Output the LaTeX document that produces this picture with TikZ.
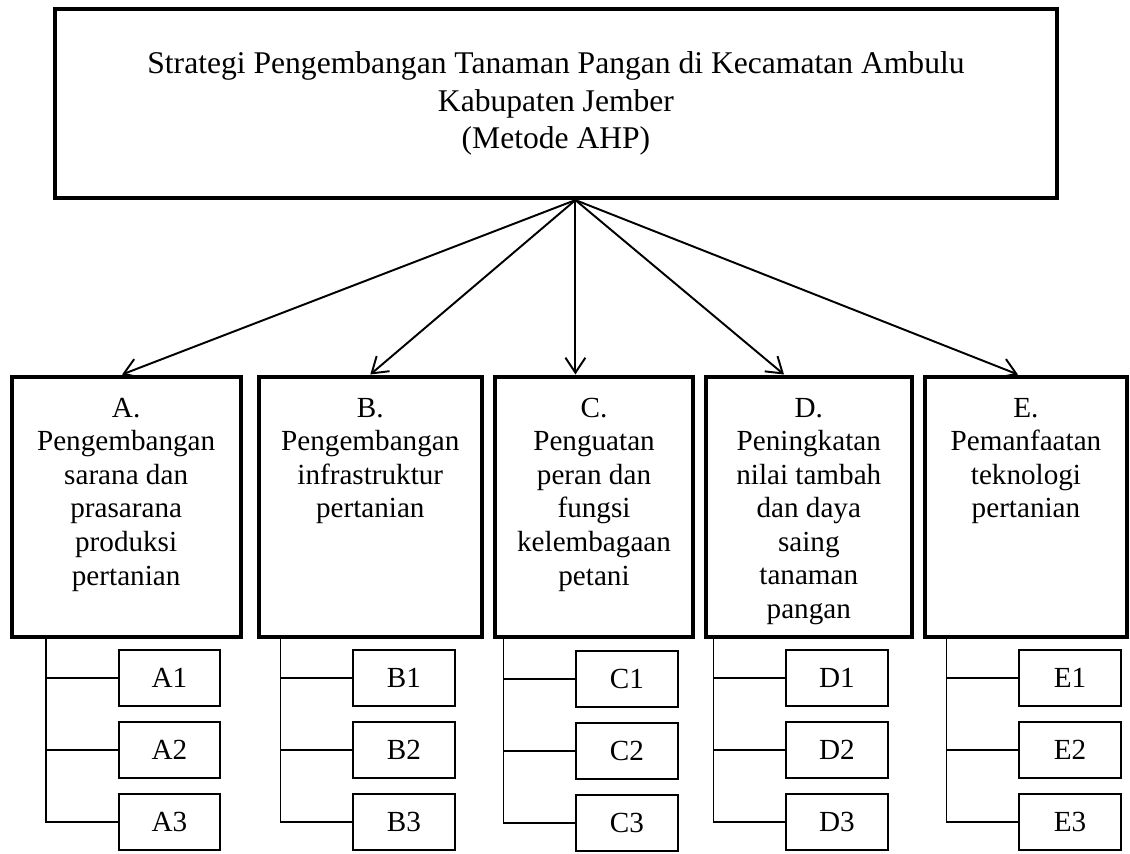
\documentclass[tikz,border=0pt]{standalone}
\usepackage{fontspec}
\setmainfont{Liberation Serif}
\usetikzlibrary{arrows.meta,positioning}

\begin{document}
\begin{tikzpicture}[x=0.4115pt, y=-0.4115pt, >={Straight Barb[length=6.2pt,width=8.2pt]},
    node distance=5.8pt,
    goal/.style={draw, line width=1.65pt, minimum width=412.3pt, minimum height=77.8pt,
                 align=center, anchor=north west, font=\fontsize{13}{15.4}\selectfont},
    crit/.style={draw, line width=1.65pt, minimum height=107.2pt, anchor=north west},
    critlbl/.style={anchor=north, align=center, inner sep=0pt, yshift=-9.5pt,
                    font=\fontsize{12}{13.8}\selectfont},
    sub/.style={draw, line width=0.8pt, minimum width=41.6pt, minimum height=23pt,
                font=\fontsize{12}{13.8}\selectfont},
    link/.style={line width=0.6pt},
    arr/.style={->, line width=0.8pt}]
  \useasboundingbox (0,0) rectangle (1130,853);

  % goal (top of the hierarchy)
  \node[goal] (goal) at (53,7)
    {Strategi Pengembangan Tanaman Pangan di Kecamatan Ambulu\\Kabupaten Jember\\(Metode AHP)};
  \coordinate (hub) at ([xshift=8pt]goal.south);

  % criteria A--E
  \node[crit, minimum width=94.2pt,
        label={[critlbl]north:A.\\Pengembangan\\sarana dan\\prasarana\\produksi\\pertanian}] (A) at (9.7,374.5) {};
  \node[crit, minimum width=92pt,
        label={[critlbl]north:B.\\Pengembangan\\infrastruktur\\pertanian}] (B) at (256.5,374.5) {};
  \node[crit, minimum width=81.5pt,
        label={[critlbl]north:C.\\Penguatan\\peran dan\\fungsi\\kelembagaan\\petani}] (C) at (493,374.5) {};
  \node[crit, minimum width=84.6pt,
        label={[critlbl]north:D.\\Peningkatan\\nilai tambah\\dan daya\\saing\\tanaman\\pangan}] (D) at (704,374.5) {};
  \node[crit, minimum width=83.1pt,
        label={[critlbl]north:E.\\Pemanfaatan\\teknologi\\pertanian}] (E) at (923,374.5) {};

  \draw[arr] (hub) -- ([xshift=-1.7pt]A.north);
  \draw[arr] (hub) -- (B.north);
  \draw[arr] (hub) -- (hub |- C.north);
  \draw[arr] (hub) -- ([xshift=-10.2pt]D.north);
  \draw[arr] (hub) -- ([xshift=-3.3pt]E.north);

  % sub-criteria
  \node[sub] (A1) at (169.5,678) {A1};
  \node[sub, below=of A1] (A2) {A2};
  \node[sub, below=of A2] (A3) {A3};
  \node[sub] (B1) at (404,678) {B1};
  \node[sub, below=of B1] (B2) {B2};
  \node[sub, below=of B2] (B3) {B3};
  \node[sub] (C1) at (627,679) {C1};
  \node[sub, below=of C1] (C2) {C2};
  \node[sub, below=of C2] (C3) {C3};
  \node[sub] (D1) at (837,678) {D1};
  \node[sub, below=of D1] (D2) {D2};
  \node[sub, below=of D2] (D3) {D3};
  \node[sub] (E1) at (1070,678) {E1};
  \node[sub, below=of E1] (E2) {E2};
  \node[sub, below=of E2] (E3) {E3};

  % trunks
  \coordinate (trunkA) at ([xshift=-29.6pt]A1.west);
  \coordinate (trunkB) at ([xshift=-29.6pt]B1.west);
  \coordinate (trunkC) at ([xshift=-29.6pt]C1.west);
  \coordinate (trunkD) at ([xshift=-29.6pt]D1.west);
  \coordinate (trunkE) at ([xshift=-29.6pt]E1.west);

  \draw[link] (trunkA |- A.south) |- (A3.west);
  \draw[link] (trunkA) -- (A1.west);
  \draw[link] (trunkA |- A2.west) -- (A2.west);
  \draw[link] (trunkB |- B.south) |- (B3.west);
  \draw[link] (trunkB) -- (B1.west);
  \draw[link] (trunkB |- B2.west) -- (B2.west);
  \draw[link] (trunkC |- C.south) |- (C3.west);
  \draw[link] (trunkC) -- (C1.west);
  \draw[link] (trunkC |- C2.west) -- (C2.west);
  \draw[link] (trunkD |- D.south) |- (D3.west);
  \draw[link] (trunkD) -- (D1.west);
  \draw[link] (trunkD |- D2.west) -- (D2.west);
  \draw[link] (trunkE |- E.south) |- (E3.west);
  \draw[link] (trunkE) -- (E1.west);
  \draw[link] (trunkE |- E2.west) -- (E2.west);
\end{tikzpicture}
\end{document}
